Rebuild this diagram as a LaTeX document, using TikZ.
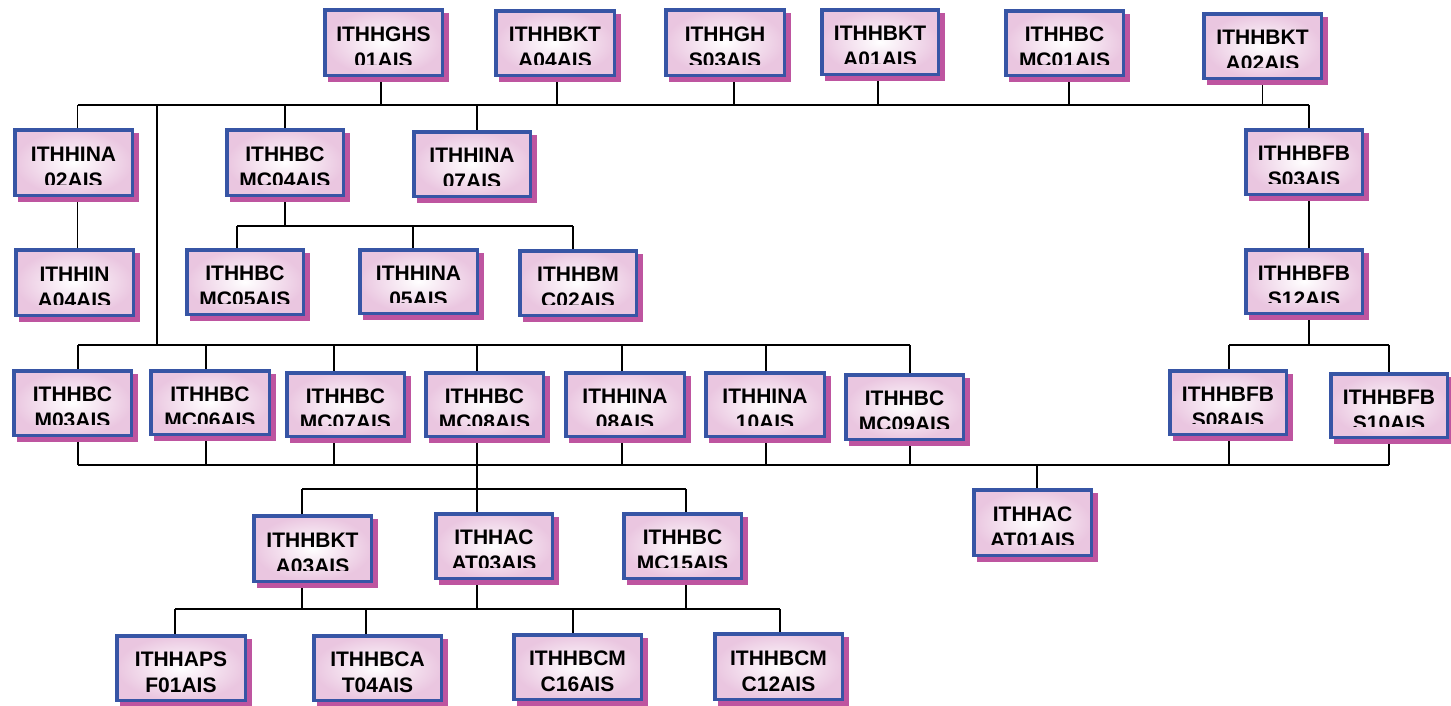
\documentclass[tikz,border=0pt]{standalone}
\usepackage{fontspec}
\setmainfont{Liberation Sans}
\definecolor{shc}{RGB}{190,85,160}
\definecolor{bdc}{RGB}{55,85,165}
\definecolor{pk}{RGB}{234,198,224}
\pgfdeclarelayer{bg}
\pgfsetlayers{bg,main}
\tikzset{
 boxst/.style={draw=bdc, line width=3.5pt, inner color=white, outer color=pk, inner sep=0pt},
 lbl/.style={anchor=base, font=\fontsize{21}{25}\selectfont\bfseries, inner sep=0pt, text=black},
 ln/.style={line width=1.6pt, black}}
% #1 clip offset, #2 name, #3 cx, #4 cy, #5 w, #6 h, #7 line1, #8 line2
\newcommand\bx[8][13]{%
 \fill[shc] (#3-#5/2+5,#4-#6/2+5) rectangle (#3+#5/2+5,#4+#6/2+5);
 \node[boxst, minimum width=#5pt-3.5pt, minimum height=#6pt-3.5pt] (#2) at (#3,#4) {};
 \begin{scope}
 \clip ([xshift=2pt,yshift=-2pt]#2.north west) rectangle ([xshift=-2pt,yshift=#1pt]#2.south east);
 \node[lbl] at (#3,#4-1.5) {#7};
 \node[lbl] at (#3,#4+24.5) {#8};
 \end{scope}}
\newcommand\cn[4]{\draw[ln] ([xshift=#3pt]#1.#2) -- ([xshift=#3pt]#1.#2 |- #4);}
\begin{document}
\begin{tikzpicture}[x=1pt,y=-1pt]
\useasboundingbox (0,0) rectangle (1451,705);
% boxes
\bx{ghs}{383.5}{42.5}{121}{69}{ITHHGHS}{01AIS}
\bx{bkta04}{555}{43}{122}{68}{ITHHBKT}{A04AIS}
\bx{ghs03}{725}{42.5}{122}{69}{ITHHGH}{S03AIS}
\bx{bkta01}{880}{42}{120}{68}{ITHHBKT}{A01AIS}
\bx{bcmc01}{1064.5}{43}{121}{68}{ITHHBC}{MC01AIS}
\bx{bkta02}{1262.5}{46}{121}{68}{ITHHBKT}{A02AIS}
\bx{ina02}{73.5}{162.5}{121}{69}{ITHHINA}{02AIS}
\bx{bcmc04}{285}{162.5}{120}{69}{ITHHBC}{MC04AIS}
\bx{ina07}{472}{164}{120}{68}{ITHHINA}{07AIS}
\bx{bfbs03}{1304}{162}{120}{68}{ITHHBFB}{S03AIS}
\bx{ina04}{74.5}{282.5}{121}{69}{ITHHIN}{A04AIS}
\bx{bcmc05}{245}{282}{120}{68}{ITHHBC}{MC05AIS}
\bx{ina05}{418.5}{281.5}{121}{67}{ITHHINA}{05AIS}
\bx{bmc02}{578}{283}{120}{68}{ITHHBM}{C02AIS}
\bx{bfbs12}{1304}{281.5}{120}{67}{ITHHBFB}{S12AIS}
\bx{bcm03}{72.5}{403}{121}{68}{ITHHBC}{M03AIS}
\bx{bcmc06}{210}{402.5}{122}{67}{ITHHBC}{MC06AIS}
\bx{bcmc07}{345.5}{404.5}{121}{67}{ITHHBC}{MC07AIS}
\bx{bcmc08}{484.5}{404.5}{121}{67}{ITHHBC}{MC08AIS}
\bx{ina08}{625}{404.5}{122}{67}{ITHHINA}{08AIS}
\bx{ina10}{765}{404.5}{122}{67}{ITHHINA}{10AIS}
\bx{bcmc09}{904.5}{407}{121}{68}{ITHHBC}{MC09AIS}
\bx{bfbs08}{1228}{402.5}{120}{67}{ITHHBFB}{S08AIS}
\bx{bfbs10}{1389}{405.5}{120}{67}{ITHHBFB}{S10AIS}
\bx{ac01}{1032.5}{522.5}{121}{69}{ITHHAC}{AT01AIS}
\bx{bkta03}{312.5}{548.5}{121}{69}{ITHHBKT}{A03AIS}
\bx{acat03}{494}{546}{120}{68}{ITHHAC}{AT03AIS}
\bx{bcmc15}{682.5}{546}{121}{68}{ITHHBC}{MC15AIS}
\bx[9]{apsf01}{181}{668}{132}{68}{ITHHAPS}{F01AIS}
\bx[9]{bcat04}{377.5}{668}{131}{68}{ITHHBCA}{T04AIS}
\bx[9]{bcmc16}{577.5}{667}{131}{68}{ITHHBCM}{C16AIS}
\bx[11]{bcmc12}{778.5}{666.5}{131}{69}{ITHHBCM}{C12AIS}
% connectors
\begin{pgfonlayer}{bg}
\fill[white] (0,0) rectangle (1451,705);
\coordinate (B1) at (0,105);
\coordinate (B2) at (0,226);
\coordinate (B3) at (0,345);
\coordinate (B4) at (0,465);
\coordinate (B5) at (0,489);
\coordinate (B6) at (0,609);
\coordinate (T1) at (157,105);
\coordinate (T2) at (157,345);
\draw[ln] (T1) -- (T2);
\draw[ln] ([xshift=4pt]ina02.north |- B1) -- ([xshift=5pt]bfbs03.north |- B1);
\cn{ghs}{south}{-2.5}{B1}
\cn{bkta04}{south}{2}{B1}
\cn{ghs03}{south}{9}{B1}
\cn{bkta01}{south}{-2}{B1}
\cn{bcmc01}{south}{4.5}{B1}
\cn{bkta02}{south}{0}{B1}
\cn{ina02}{north}{4}{B1}
\cn{bcmc04}{north}{0}{B1}
\cn{ina07}{north}{5}{B1}
\cn{bfbs03}{north}{5}{B1}
\cn{ina02}{south}{4}{ina04.north}
\cn{bfbs03}{south}{5}{bfbs12.north}
% MC04 group
\draw[ln] ([xshift=-8pt]bcmc05.north |- B2) -- ([xshift=-5pt]bmc02.north |- B2);
\cn{bcmc04}{south}{0}{B2}
\cn{bcmc05}{north}{-8}{B2}
\cn{ina05}{north}{-5.5}{B2}
\cn{bmc02}{north}{-5}{B2}
% S12 group
\draw[ln] ([xshift=1pt]bfbs08.north |- B3) -- (bfbs10.north |- B3);
\cn{bfbs12}{south}{5}{B3}
\cn{bfbs08}{north}{1}{B3}
\cn{bfbs10}{north}{0}{B3}
% row 4 upper bus
\draw[ln] ([xshift=5.5pt]bcm03.north |- B3) -- ([xshift=5.5pt]bcmc09.north |- B3);
\cn{bcm03}{north}{5.5}{B3}
\cn{bcmc06}{north}{-4}{B3}
\cn{bcmc07}{north}{-11.5}{B3}
\cn{bcmc08}{north}{-7.5}{B3}
\cn{ina08}{north}{-3}{B3}
\cn{ina10}{north}{1}{B3}
\cn{bcmc09}{north}{5.5}{B3}
% row 4 lower bus
\draw[ln] ([xshift=5.5pt]bcm03.south |- B4) -- (bfbs10.south |- B4);
\cn{bcm03}{south}{5.5}{B4}
\cn{bcmc06}{south}{-4}{B4}
\cn{bcmc07}{south}{-11.5}{B4}
\cn{bcmc08}{south}{-7.5}{B5}
\cn{ina08}{south}{-3}{B4}
\cn{ina10}{south}{1}{B4}
\cn{bcmc09}{south}{5.5}{B4}
\cn{bfbs08}{south}{1}{B4}
\cn{bfbs10}{south}{0}{B4}
\cn{ac01}{north}{4.5}{B4}
% row 5
\draw[ln] ([xshift=-10.5pt]bkta03.north |- B5) -- ([xshift=3.5pt]bcmc15.north |- B5);
\cn{bkta03}{north}{-10.5}{B5}
\cn{acat03}{north}{-17}{B5}
\cn{bcmc15}{north}{3.5}{B5}
% row 6
\draw[ln] ([xshift=-6pt]apsf01.north |- B6) -- ([xshift=1.5pt]bcmc12.north |- B6);
\cn{bkta03}{south}{-10.5}{B6}
\cn{acat03}{south}{-17}{B6}
\cn{bcmc15}{south}{3.5}{B6}
\cn{apsf01}{north}{-6}{B6}
\cn{bcat04}{north}{-11.5}{B6}
\cn{bcmc16}{north}{-4.5}{B6}
\cn{bcmc12}{north}{1.5}{B6}
\end{pgfonlayer}
\end{tikzpicture}
\end{document}
